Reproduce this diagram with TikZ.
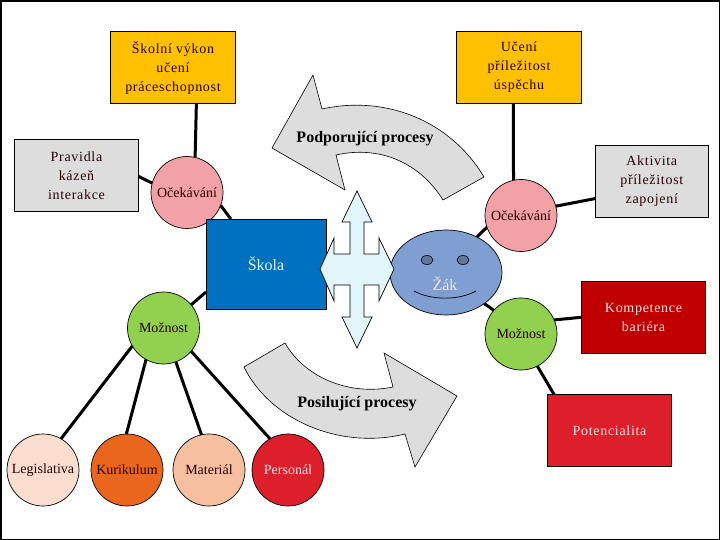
\documentclass[tikz,border=0pt]{standalone}
\usepackage{fontspec}
\setmainfont{Liberation Serif}
\newfontfamily\spacedfont[LetterSpace=5]{Liberation Serif}
\usetikzlibrary{shapes.geometric,backgrounds}
\definecolor{cyellow}{HTML}{FFC000}
\definecolor{cgray}{HTML}{DDDDDD}
\definecolor{cpink}{HTML}{F2A2A6}
\definecolor{cblue}{HTML}{0070C0}
\definecolor{ccross}{HTML}{E1F5FB}
\definecolor{cface}{HTML}{7F9FD2}
\definecolor{cgreen}{HTML}{92D050}
\definecolor{cdred}{HTML}{C00000}
\definecolor{cred}{HTML}{DC1F2B}
\definecolor{cleg}{HTML}{FBDDCF}
\definecolor{ckur}{HTML}{E9661C}
\definecolor{cmat}{HTML}{F6BFA0}
\definecolor{clight}{HTML}{F4E4E4}
\tikzset{
  labeltext/.style={font=\fontsize{14}{19}\selectfont\spacedfont,align=center,text=black!85!red},
  boxnode/.style={draw=black,line width=0.7pt,inner sep=0pt,outer sep=0pt,minimum width=#1,minimum height=72pt,labeltext},
  circ/.style={circle,draw=black,line width=0.7pt,fill=#1,inner sep=0pt,outer sep=0pt,minimum size=72pt,font=\fontsize{14}{16}\selectfont,text=black!85!red},
  link/.style={line width=3pt,draw=black},
  blockarrow/.style={draw=black,line width=0.6pt,fill=cgray},
  proc/.style={font=\fontsize{16}{18}\selectfont\bfseries,text=black}
}
\begin{document}
\begin{tikzpicture}[x=1pt,y=-1pt]
\useasboundingbox (0,0) rectangle (720,540);
\fill[black] (0,0) rectangle (720,540);
\fill[white] (2,2) rectangle (719,539);
% block arrows
\draw[blockarrow] (322,109) .. controls (385,95) and (450,120) .. (484,177) -- (443,200)
  .. controls (420,163) and (380,145) .. (336,155) -- (345,190) -- (272,148) -- (313,75) -- cycle;
\draw[blockarrow] (285,343) .. controls (305,378) and (350,396) .. (393,387) -- (384,353) -- (457,396) -- (415,467) -- (405,434)
  .. controls (340,450) and (270,420) .. (244,367) -- cycle;
% boxes and circles
\node[boxnode=125pt,fill=cyellow] (vykon) at (173,67.5) {Školní výkon\\učení\\práceschopnost};
\node[boxnode=125pt,fill=cyellow] (uceni) at (519,67.5) {Učení\\příležitost\\úspěchu};
\node[boxnode=124pt,fill=cgray] (pravidla) at (76.5,175.25) {Pravidla\\kázeň\\interakce};
\node[boxnode=113.5pt,fill=cgray] (aktivita) at (651.8,181.25) {Aktivita\\příležitost\\zapojení};
\node[boxnode=124.5pt,fill=cdred,text=clight] (komp) at (643.5,317.3) {Kompetence\\bariéra};
\node[boxnode=124.5pt,fill=cred,text=clight] (pot) at (609.5,430.5) {Potencialita};
\node[circ=cpink] (oc1) at (187,192.5) {Očekávání};
\node[circ=cpink] (oc2) at (521,215.5) {Očekávání};
\node[rectangle,draw=black,line width=0.7pt,fill=cblue,inner sep=0pt,outer sep=0pt,minimum width=120pt,minimum height=90pt,font=\fontsize{16}{18}\selectfont,text=ccross] (skola) at (266,264) {Škola};
\node[circ=cgreen] (mo1) at (163.5,328) {Možnost};
\node[circ=cgreen] (mo2) at (521,334) {Možnost};
\node[circ=cleg] (leg) at (43,470) {Legislativa};
\node[circ=ckur] (kur) at (127,470) {Kurikulum};
\node[circ=cmat] (mat) at (209,470) {Materiál};
\node[circ=cred,text=clight] (per) at (288,470) {Personál};
\node[ellipse,draw=black,line width=0.7pt,fill=cface,inner sep=0pt,outer sep=0pt,minimum width=112pt,minimum height=85pt] (face) at (446,272.5) {};
\node[ellipse,draw=black,line width=0.6pt,fill=cface!75!black,inner sep=0pt,minimum width=12pt,minimum height=9pt] (eyel) at (427,260) {};
\node[ellipse,draw=black,line width=0.6pt,fill=cface!75!black,inner sep=0pt,minimum width=12pt,minimum height=9pt] (eyer) at (463,260) {};
\draw[line width=0.7pt] (414,291) .. controls (430,300) and (458,301) .. (476,291);
\node[font=\fontsize{16}{18}\selectfont,text=clight] (zak) at (445,284) {Žák};
% cross arrow
\draw[draw=black,line width=0.7pt,fill=ccross] (357,191) -- (372,222) -- (364,222) -- (364,254) -- (379,254) -- (379,238) -- (394,269)
  -- (379,301) -- (379,285) -- (364,285) -- (364,317) -- (372,317) -- (357,348) -- (342,317) -- (350,317) -- (350,285) -- (334,285)
  -- (334,301) -- (320,269) -- (334,238) -- (334,254) -- (350,254) -- (350,222) -- (342,222) -- cycle;
\node[proc] (pod) at (365,139) {Podporující procesy};
\node[proc] (pos) at (357,404) {Posilující procesy};
% connectors
\begin{scope}[on background layer]
\end{scope}
\draw[link] (vykon.-57.4) -- (oc1.77.3);
\draw[link] (pravidla.-1) -- (oc1.165);
\draw[link] (oc1.-21) -- (skola.128.7);
\draw[link] (mo1.40) -- (skola.-155);
\draw[link] (mo1.-150) -- (leg.60.6);
\draw[link] (mo1.-119) -- (kur.91.6);
\draw[link] (mo1.-70) -- (mat.102.5);
\draw[link] (mo1.-40) -- (per.120.7);
\draw[link] (uceni.-99.5) -- (oc2.102.7);
\draw[link] (aktivita.-163.3) -- (oc2.15.2);
\draw[link] (face.49.8) -- (oc2.-161.3);
\draw[link] (face.-39.5) -- (mo2.139.6);
\draw[link] (mo2.23) -- (komp.west);
\draw[link] (mo2.-63.4) -- (pot.147.1);
\end{tikzpicture}
\end{document}
